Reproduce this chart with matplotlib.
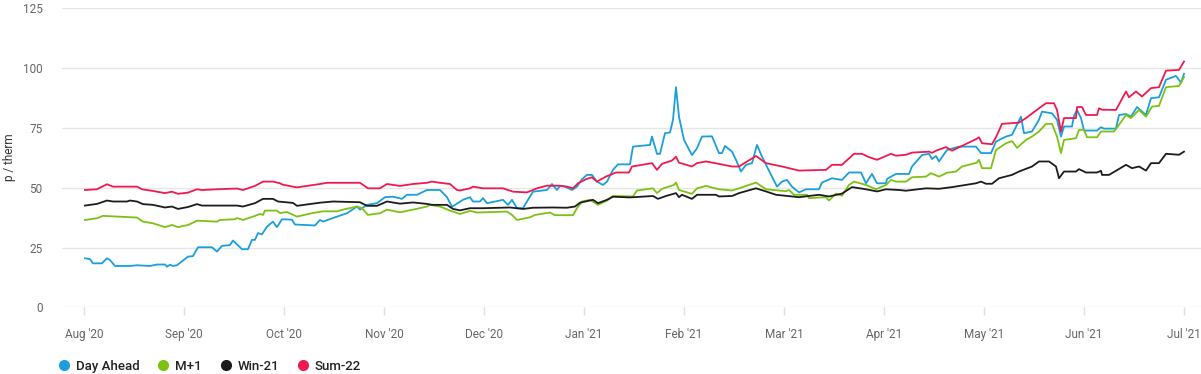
import matplotlib
matplotlib.use('Agg')
import matplotlib.pyplot as plt
from matplotlib.lines import Line2D

# x positions are in months since 1 Aug 2020 (the axis gives every month equal width)
month_labels = ["Aug '20", "Sep '20", "Oct '20", "Nov '20", "Dec '20", "Jan '21",
                "Feb '21", "Mar '21", "Apr '21", "May '21", "Jun '21", "Jul '21"]

day_ahead_x = [0.01, 0.06, 0.09, 0.18, 0.23, 0.26, 0.31, 0.46, 0.53, 0.66, 0.73, 0.81, 0.83, 0.86,
               0.89, 0.93, 1.04, 1.09, 1.14, 1.28, 1.33, 1.38, 1.46, 1.49, 1.58, 1.64, 1.68, 1.71,
               1.74, 1.78, 1.83, 1.89, 1.93, 1.98, 2.08, 2.11, 2.31, 2.36, 2.39, 2.51, 2.63, 2.73,
               2.76, 2.83, 2.93, 3.01, 3.09, 3.18, 3.23, 3.33, 3.43, 3.56, 3.63, 3.68, 3.79, 3.86,
               3.89, 3.96, 3.99, 4.03, 4.09, 4.19, 4.24, 4.28, 4.33, 4.39, 4.44, 4.49, 4.63, 4.68,
               4.73, 4.76, 4.81, 4.88, 4.93, 4.98, 5.03, 5.08, 5.13, 5.19, 5.23, 5.29, 5.34, 5.46,
               5.49, 5.66, 5.68, 5.73, 5.76, 5.81, 5.86, 5.89, 5.92, 5.95, 6.00, 6.08, 6.13, 6.18,
               6.28, 6.35, 6.38, 6.41, 6.48, 6.52, 6.57, 6.62, 6.68, 6.73, 6.78, 6.88, 6.93, 6.98,
               7.03, 7.08, 7.15, 7.22, 7.35, 7.38, 7.48, 7.58, 7.65, 7.77, 7.82, 7.88, 7.93, 8.02,
               8.03, 8.12, 8.25, 8.28, 8.38, 8.45, 8.48, 8.52, 8.55, 8.63, 8.75, 8.92, 8.97, 9.07,
               9.12, 9.22, 9.28, 9.33, 9.37, 9.40, 9.48, 9.55, 9.58, 9.68, 9.73, 9.77, 9.80, 9.88,
               9.90, 9.93, 9.97, 10.00, 10.13, 10.17, 10.20, 10.32, 10.35, 10.42, 10.47, 10.53,
               10.62, 10.67, 10.75, 10.82, 10.92, 10.97, 11.00]
day_ahead = [20.5, 20.2, 18.4, 18.4, 20.5, 19.8, 17.3, 17.3, 17.6, 17.3, 17.9, 17.9, 17.0, 17.8,
             17.3, 17.6, 21.2, 21.4, 25.1, 25.1, 23.3, 25.7, 26.0, 27.9, 24.3, 24.3, 28.2, 28.2,
             31.0, 30.5, 33.7, 35.8, 33.5, 36.8, 36.6, 34.6, 34.2, 36.5, 35.8, 37.6, 39.3, 42.1,
             40.8, 42.8, 43.5, 46.0, 46.2, 45.3, 47.0, 47.0, 49.0, 49.0, 46.0, 42.0, 44.9, 46.0,
             44.2, 44.2, 45.6, 43.5, 44.0, 44.9, 42.8, 44.9, 41.4, 41.4, 44.9, 48.3, 49.0, 51.5,
             49.0, 50.7, 50.4, 49.0, 50.4, 53.5, 55.3, 55.3, 52.5, 51.1, 52.5, 57.4, 59.7, 59.7,
             67.1, 67.8, 71.3, 64.1, 64.1, 72.7, 73.0, 78.3, 91.9, 79.6, 69.9, 63.6, 66.4, 71.3,
             71.4, 64.4, 64.4, 67.4, 65.0, 61.6, 56.7, 59.5, 60.2, 67.8, 62.9, 54.6, 50.4, 52.5,
             53.2, 50.4, 48.0, 49.3, 49.3, 52.1, 53.9, 53.2, 56.3, 56.3, 51.8, 55.7, 51.8, 51.8,
             53.6, 55.7, 55.7, 58.8, 63.6, 64.1, 61.9, 63.2, 60.9, 65.7, 67.1, 67.1, 64.4, 64.4,
             69.2, 71.3, 72.0, 76.2, 79.6, 72.7, 73.4, 78.3, 81.7, 81.0, 78.3, 71.3, 75.5, 75.5,
             79.9, 82.4, 79.0, 73.8, 73.8, 75.2, 74.6, 74.6, 80.3, 80.7, 79.6, 83.6,
             80.3, 87.3, 87.7, 95.0, 96.6, 93.8, 97.5]

m1_x = [0.01, 0.13, 0.19, 0.53, 0.59, 0.69, 0.81, 0.88, 0.94, 1.04, 1.13, 1.33, 1.36, 1.51, 1.53,
        1.59, 1.71, 1.76, 1.79, 1.81, 1.93, 1.96, 2.03, 2.13, 2.29, 2.39, 2.53, 2.59, 2.73, 2.78,
        2.84, 2.96, 3.03, 3.16, 3.29, 3.43, 3.46, 3.56, 3.66, 3.76, 3.86, 3.93, 4.23, 4.28, 4.33,
        4.46, 4.51, 4.66, 4.71, 4.89, 4.93, 4.98, 5.06, 5.14, 5.23, 5.29, 5.49, 5.53, 5.69, 5.73,
        5.78, 5.90, 5.92, 5.95, 6.08, 6.13, 6.22, 6.35, 6.48, 6.55, 6.72, 6.82, 7.02, 7.05, 7.10,
        7.23, 7.25, 7.42, 7.45, 7.52, 7.58, 7.65, 7.70, 7.82, 7.92, 8.02, 8.07, 8.12, 8.22, 8.28,
        8.42, 8.47, 8.55, 8.63, 8.72, 8.78, 8.93, 8.95, 8.98, 9.07, 9.12, 9.22, 9.28, 9.33, 9.42,
        9.48, 9.55, 9.62, 9.68, 9.73, 9.77, 9.80, 9.92, 9.95, 10.00, 10.03, 10.13, 10.17, 10.30,
        10.35, 10.42, 10.47, 10.55, 10.62, 10.68, 10.75, 10.82, 10.95, 11.00]
m1 = [36.5, 37.2, 38.2, 37.5, 35.8, 35.1, 33.5, 34.4, 33.5, 34.4, 36.2, 35.8, 36.5, 36.8, 37.3,
      36.5, 38.2, 39.0, 38.6, 40.4, 40.4, 39.4, 39.8, 37.9, 39.4, 40.1, 40.1, 40.8, 42.1, 41.4,
      38.6, 39.3, 40.8, 39.7, 40.8, 42.1, 42.8, 42.1, 40.4, 39.0, 40.3, 39.6, 40.0, 38.6, 36.5,
      37.6, 38.6, 39.6, 38.5, 38.5, 41.4, 44.2, 44.9, 42.8, 44.6, 46.5, 46.3, 48.8, 49.7, 47.7,
      49.5, 51.1, 52.1, 49.0, 47.4, 49.7, 50.7, 49.3, 48.8, 49.7, 52.1, 49.3, 48.5, 49.0, 47.0,
      47.0, 45.6, 46.0, 44.6, 47.5, 46.6, 51.1, 52.5, 51.1, 49.3, 51.1, 53.2, 52.5, 52.5, 54.3,
      54.6, 56.0, 54.6, 56.2, 56.7, 58.8, 60.4, 61.6, 58.1, 58.1, 65.7, 68.5, 69.4, 66.6, 69.9,
      71.3, 73.4, 76.6, 76.6, 71.3, 64.4, 69.9, 70.6, 74.1, 74.1, 71.0, 71.0, 73.4, 73.4,
      76.2, 80.3, 79.0, 82.4, 79.6, 83.8, 84.1, 91.9, 92.4, 96.1]

win21_x = [0.01, 0.13, 0.23, 0.29, 0.43, 0.46, 0.53, 0.59, 0.69, 0.81, 0.88, 0.94, 1.04, 1.13,
           1.18, 1.53, 1.59, 1.71, 1.79, 1.89, 1.94, 2.09, 2.13, 2.36, 2.49, 2.76, 2.83, 2.93,
           3.03, 3.16, 3.29, 3.43, 3.48, 3.63, 3.69, 3.76, 3.86, 3.99, 4.26, 4.39, 4.49, 4.69,
           4.83, 4.91, 4.96, 5.09, 5.14, 5.23, 5.29, 5.46, 5.69, 5.74, 5.82, 5.92, 5.95, 5.98,
           6.08, 6.13, 6.32, 6.35, 6.48, 6.55, 6.72, 6.82, 6.92, 7.15, 7.35, 7.45, 7.58, 7.68,
           7.82, 7.93, 8.02, 8.15, 8.22, 8.42, 8.55, 8.68, 8.92, 8.97, 9.02, 9.08, 9.15, 9.28,
           9.35, 9.48, 9.55, 9.65, 9.72, 9.75, 9.80, 9.92, 9.95, 10.02, 10.13, 10.17, 10.18,
           10.25, 10.42, 10.48, 10.55, 10.62, 10.67, 10.75, 10.82, 10.95, 11.00]
win21 = [42.5, 43.2, 44.6, 44.2, 44.2, 44.6, 44.2, 43.1, 42.8, 41.7, 42.1, 41.1, 41.9, 43.1,
         42.5, 42.5, 42.1, 43.5, 45.3, 45.3, 44.2, 43.6, 42.4, 43.7, 44.2, 43.9, 42.4, 42.4,
         44.2, 43.3, 43.8, 43.2, 42.8, 42.8, 41.1, 40.5, 41.4, 41.4, 41.7, 41.1, 41.6, 41.7,
         41.6, 42.1, 43.7, 44.9, 43.5, 44.9, 46.2, 45.9, 46.5, 45.3, 46.5, 47.7, 46.0, 47.0,
         45.3, 47.0, 47.0, 46.3, 46.5, 47.7, 49.7, 48.4, 47.0, 46.0, 47.0, 46.3, 47.5, 50.2,
         49.3, 48.4, 49.3, 49.0, 48.7, 49.7, 49.5, 50.2, 51.8, 52.5, 51.6, 51.6, 53.9, 55.3,
         56.7, 58.8, 60.9, 60.9, 58.8, 53.9, 56.7, 56.7, 57.7, 56.3, 56.3, 57.0, 55.3,
         55.3, 59.5, 58.1, 58.8, 57.1, 60.2, 60.2, 64.1, 63.7, 65.0]

sum22_x = [0.01, 0.13, 0.23, 0.29, 0.53, 0.58, 0.69, 0.81, 0.88, 0.94, 1.04, 1.13, 1.18, 1.33,
           1.53, 1.59, 1.71, 1.79, 1.89, 1.96, 1.99, 2.09, 2.13, 2.36, 2.43, 2.76, 2.84, 2.96,
           3.03, 3.16, 3.29, 3.43, 3.48, 3.56, 3.66, 3.73, 3.76, 3.86, 3.89, 3.99, 4.19, 4.29,
           4.43, 4.53, 4.63, 4.76, 4.83, 4.89, 4.94, 5.02, 5.08, 5.13, 5.22, 5.32, 5.45, 5.48,
           5.68, 5.73, 5.78, 5.88, 5.92, 5.95, 6.08, 6.13, 6.22, 6.35, 6.48, 6.55, 6.72, 6.82,
           6.98, 7.15, 7.42, 7.48, 7.58, 7.70, 7.78, 7.85, 7.93, 8.07, 8.12, 8.22, 8.28, 8.45,
           8.48, 8.52, 8.62, 8.68, 8.92, 8.95, 8.98, 9.08, 9.12, 9.18, 9.35, 9.42, 9.55, 9.62,
           9.70, 9.73, 9.77, 9.80, 9.92, 9.93, 9.98, 10.02, 10.13, 10.15, 10.18, 10.32, 10.42,
           10.45, 10.52, 10.58, 10.67, 10.75, 10.82, 10.95, 11.00]
sum22 = [49.0, 49.3, 51.4, 50.4, 50.4, 49.3, 48.6, 47.7, 48.3, 47.4, 47.9, 49.3, 49.0, 49.3,
         49.6, 49.0, 50.7, 52.5, 52.5, 51.8, 51.2, 50.4, 50.1, 51.5, 52.0, 52.0, 49.7, 49.7,
         51.5, 50.7, 51.5, 52.0, 52.5, 52.0, 51.5, 49.0, 48.8, 49.7, 50.4, 49.7, 49.7, 48.3,
         48.0, 49.7, 50.8, 50.8, 50.4, 49.7, 51.8, 53.5, 54.3, 52.5, 54.6, 56.3, 56.3, 58.8,
         60.2, 57.4, 59.9, 61.3, 62.9, 60.4, 58.8, 60.2, 60.9, 59.9, 58.8, 58.8, 63.2, 60.2,
         58.8, 57.1, 57.4, 59.5, 59.5, 64.1, 64.1, 62.7, 61.6, 64.1, 63.3, 63.7, 64.6, 65.0,
         64.5, 65.4, 66.9, 65.4, 70.2, 71.0, 68.5, 68.1, 71.0, 76.6, 77.1, 79.0, 83.1, 85.2,
         85.2, 82.4, 73.4, 79.0, 79.0, 83.6, 83.6, 80.3, 80.3, 83.1, 82.5, 82.4, 90.1,
         87.7, 90.1, 88.0, 91.5, 91.9, 98.8, 99.1, 102.6]

series = [
    ('Day Ahead', day_ahead_x, day_ahead, '#1a9fdb'),
    ('M+1', m1_x, m1, '#7cc213'),
    ('Win-21', win21_x, win21, '#1c1c1c'),
    ('Sum-22', sum22_x, sum22, '#ee1a4f'),
]

plt.rcParams['font.family'] = ['Roboto', 'DejaVu Sans']

fig = plt.figure(figsize=(12.01, 3.74), dpi=100)
ax = fig.add_axes([0.0516, 0.178, 0.9484, 0.801])

for name, xs, ys, color in series:
    ax.plot(xs, ys, color=color, linewidth=1.3, solid_joinstyle='round')

ax.set_xlim(-0.22, 11.17)
ax.set_ylim(0, 125)
ax.set_yticks([0, 25, 50, 75, 100, 125])
ax.set_xticks(range(len(month_labels)))
ax.set_xticklabels(month_labels)

ax.grid(axis='y', color='#e6e6e6', linewidth=1)
ax.set_axisbelow(True)
for s in ax.spines.values():
    s.set_visible(False)

ax.tick_params(axis='y', length=0, pad=14, labelsize=8.5, labelcolor='#666666')
ax.tick_params(axis='x', length=6, width=1, color='#e0e0e0', pad=9,
               labelsize=8.5, labelcolor='#666666')
ax.set_ylabel('p / therm', fontsize=8.5, color='#333333')
ax.yaxis.set_label_coords(-0.04, 0.5)

handles = [Line2D([0], [0], marker='o', linestyle='none', markersize=7,
                  markerfacecolor=c, markeredgecolor=c) for _, _, _, c in series]
labels = [n for n, _, _, _ in series]
fig.legend(handles, labels, loc='center left', bbox_to_anchor=(0.039, 0.02),
           ncol=4, frameon=False, handletextpad=0.5, columnspacing=1.4,
           handlelength=0.8, labelcolor='#222222',
           prop={'size': 9.5, 'weight': 'medium'})

fig.savefig('out.png', dpi=100)
